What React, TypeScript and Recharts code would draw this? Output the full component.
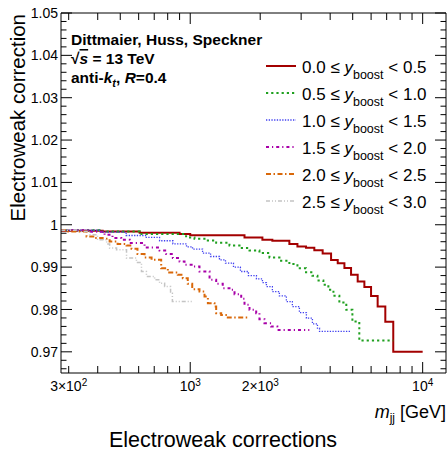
import React from "react";
import { LineChart, Line, XAxis, YAxis, Legend } from "recharts";

const FONT = '"Liberation Sans", Arial, Helvetica, sans-serif';

// y_boost slices shown in the legend
const boostLow = ["0.0", "0.5", "1.0", "1.5", "2.0", "2.5"];
const boostHigh = ["0.5", "1.0", "1.5", "2.0", "2.5", "3.0"];

// m_jj bin edges [GeV] and the correction in each bin (one value fewer than edges)
const mjj0 = [278, 420, 606, 900, 1000, 1712, 2044, 2256, 2670, 2892, 3149, 3419, 3713, 4036, 4311, 4606, 4919, 5253, 5613, 5997, 6402, 6907, 7473, 10000];
const ew0 = [0.9986, 0.9984, 0.9981, 0.9978, 0.9975, 0.997, 0.99645, 0.9962, 0.99544, 0.99487, 0.9946, 0.994, 0.9932, 0.9917, 0.9909, 0.9898, 0.9882, 0.9866, 0.9853, 0.9832, 0.9807, 0.9771, 0.97];

const mjj1 = [278, 407, 606, 960, 1043, 1171, 1293, 1475, 1629, 1799, 1985, 2192, 2420, 2670, 2892, 3149, 3355, 3527, 3739, 3929, 4131, 4381, 4693, 4985, 5338, 7473];
const ew1 = [0.9987, 0.9984, 0.9978, 0.997, 0.99669, 0.99629, 0.99574, 0.99511, 0.99449, 0.99392, 0.99331, 0.99227, 0.99149, 0.99071, 0.98976, 0.98877, 0.98794, 0.98683, 0.98582, 0.98463, 0.98322, 0.98163, 0.97991, 0.97714, 0.97265];

const mjj2 = [278, 407, 530, 647, 738, 842, 964, 1023, 1130, 1223, 1336, 1418, 1535, 1644, 1780, 1927, 2045, 2127, 2256, 2418, 2592, 2750, 2949, 3161, 3355, 3527, 3600, 4920];
const ew2 = [0.9987, 0.99827, 0.99747, 0.997, 0.99622, 0.99551, 0.9948, 0.99426, 0.99331, 0.99251, 0.99173, 0.99095, 0.99, 0.98896, 0.98801, 0.98723, 0.98636, 0.98541, 0.98423, 0.98322, 0.98187, 0.98069, 0.97927, 0.97794, 0.9766, 0.97558, 0.97482];

const mjj3 = [278, 369, 428, 463, 505, 549, 636, 738, 788, 842, 900, 945, 1033, 1096, 1211, 1293, 1380, 1475, 1551, 1657, 1712, 1799, 1922, 1985, 2086, 2229, 2370, 3254];
const ew3 = [0.9987, 0.99834, 0.99764, 0.99686, 0.99645, 0.99567, 0.99463, 0.99392, 0.99307, 0.99213, 0.99132, 0.99054, 0.99014, 0.98896, 0.987, 0.98605, 0.98504, 0.98463, 0.98362, 0.98251, 0.98109, 0.97991, 0.97913, 0.97771, 0.97676, 0.97596, 0.97518];

const mjj4 = [278, 294, 358, 388, 420, 450, 487, 532, 559, 593, 636, 682, 750, 801, 884, 929, 976, 1020, 1096, 1152, 1191, 1272, 1293, 1359, 1451, 1780];
const ew4 = [0.9987, 0.99842, 0.99723, 0.99686, 0.99669, 0.99605, 0.99544, 0.99511, 0.99433, 0.99307, 0.99227, 0.99173, 0.98976, 0.98872, 0.98818, 0.9874, 0.98605, 0.9848, 0.98423, 0.98305, 0.98149, 0.98069, 0.97913, 0.97872, 0.97809];

const mjj5 = [278, 324, 369, 399, 437, 450, 482, 532, 587, 617, 648, 703, 738, 776, 823, 838, 1023];
const ew5 = [0.9987, 0.99842, 0.99764, 0.99645, 0.99544, 0.99449, 0.99409, 0.99213, 0.99109, 0.98896, 0.98778, 0.987, 0.98622, 0.98541, 0.98385, 0.98187];

// axes
const xDomain = [278, 12600];
const yDomain = [0.965, 1.05];
const xTicksAll = [300, 400, 500, 600, 700, 800, 900, 1000, 2000, 3000, 4000, 5000, 6000, 7000, 8000, 9000, 10000];
const xMajor = [1000, 10000];
const xLabelValues = [300, 1000, 2000, 10000];
const xLabelBase = ["3\u00d710", "10", "2\u00d710", "10"];
const xLabelExp = ["2", "3", "3", "4"];
const yLabelValues = [0.97, 0.98, 0.99, 1.0, 1.01, 1.02, 1.03, 1.04, 1.05];
const yLabels = ["0.97", "0.98", "0.99", "1", "1.01", "1.02", "1.03", "1.04", "1.05"];
const yTicksAll = Array.from({ length: 43 }, (_, i) => +(0.966 + i * 0.002).toFixed(3));

const toSteps = (edges: number[], vals: number[]) =>
  edges.map((m, i) => ({ m, v: vals[Math.min(i, vals.length - 1)] }));

const series = [
  { data: toSteps(mjj0, ew0), color: "#a30000", width: 2, dash: undefined },
  { data: toSteps(mjj1, ew1), color: "#1fa01f", width: 2, dash: "2.2 3" },
  { data: toSteps(mjj2, ew2), color: "#4040f0", width: 1.3, dash: "1.3 1.4" },
  { data: toSteps(mjj3, ew3), color: "#a800a8", width: 2, dash: "3 3 1.2 3" },
  { data: toSteps(mjj4, ew4), color: "#d9680a", width: 2, dash: "5 2.5 1.5 2.5" },
  { data: toSteps(mjj5, ew5), color: "#c4c4c4", width: 1.5, dash: "4 2 1 2 1 2" },
];

const isMajorY = (v: number) => yLabelValues.some((t) => Math.abs(t - v) < 1e-6);

function LeftTick(props: any) {
  const { x, y, payload } = props;
  const idx = yLabelValues.findIndex((t) => Math.abs(t - payload.value) < 1e-6);
  const major = idx >= 0;
  return (
    <g>
      <line x1={x} x2={x + (major ? 11 : 5.5)} y1={y} y2={y} stroke="#000" />
      {major && (
        <text x={x - 3} y={y} dy="0.36em" textAnchor="end" fontSize={14} fontFamily={FONT} fill="#000">
          {yLabels[idx]}
        </text>
      )}
    </g>
  );
}

function RightTick(props: any) {
  const { x, y, payload } = props;
  const len = isMajorY(payload.value) ? 11 : 5.5;
  return <line x1={x} x2={x - len} y1={y} y2={y} stroke="#000" />;
}

function BottomTick(props: any) {
  const { x, y, payload } = props;
  const v = payload.value;
  const li = xLabelValues.indexOf(v);
  const len = xMajor.includes(v) ? 11 : 7;
  return (
    <g>
      <line x1={x} x2={x} y1={y} y2={y - len} stroke="#000" />
      {li >= 0 && (
        <text x={x} y={y + 18} textAnchor="middle" fontSize={14} fontFamily={FONT} fill="#000">
          {xLabelBase[li]}
          <tspan dy={-5.5} fontSize={10}>{xLabelExp[li]}</tspan>
        </text>
      )}
    </g>
  );
}

function TopTick(props: any) {
  const { x, y, payload } = props;
  const len = xMajor.includes(payload.value) ? 11 : 7;
  return <line x1={x} x2={x} y1={y} y2={y + len} stroke="#000" />;
}

function LegendBox() {
  return (
    <svg width={185} height={165} style={{ display: "block" }}>
      {series.map((s, i) => {
        const cy = 14 + i * 27;
        return (
          <g key={i}>
            <line x1={4} x2={34} y1={cy} y2={cy} stroke={s.color} strokeWidth={s.width} strokeDasharray={s.dash} />
            <text x={40} y={cy + 6.5} fontSize={17} fontFamily={FONT} fill="#000">
              {boostLow[i]} {"\u2264"} <tspan fontStyle="italic">y</tspan>
              <tspan dy={6} fontSize={12.5}>boost</tspan>
              <tspan dy={-6}>{" < "}{boostHigh[i]}</tspan>
            </text>
          </g>
        );
      })}
    </svg>
  );
}

export default function App() {
  return (
    <div style={{ position: "absolute", left: 0, top: 0, width: 447, height: 452, background: "#fff" }}>
      <LineChart width={447} height={452} margin={{ top: 12, right: 0, bottom: 0, left: 0 }}>
        <XAxis
          xAxisId="x"
          dataKey="m"
          type="number"
          scale="log"
          domain={xDomain}
          allowDataOverflow
          ticks={xTicksAll}
          interval={0}
          height={79}
          tickSize={0}
          tickMargin={0}
          tickLine={false}
          axisLine={{ stroke: "#000" }}
          tick={<BottomTick />}
        />
        <XAxis
          xAxisId="xt"
          dataKey="m"
          orientation="top"
          type="number"
          scale="log"
          domain={xDomain}
          allowDataOverflow
          ticks={xTicksAll}
          interval={0}
          height={1}
          tickSize={0}
          tickMargin={0}
          tickLine={false}
          axisLine={{ stroke: "#000" }}
          tick={<TopTick />}
        />
        <YAxis
          yAxisId="y"
          type="number"
          domain={yDomain}
          allowDataOverflow
          ticks={yTicksAll}
          interval={0}
          width={61}
          tickSize={0}
          tickMargin={0}
          tickLine={false}
          axisLine={{ stroke: "#000" }}
          tick={<LeftTick />}
        />
        <YAxis
          yAxisId="yr"
          orientation="right"
          type="number"
          domain={yDomain}
          allowDataOverflow
          ticks={yTicksAll}
          interval={0}
          width={1}
          tickSize={0}
          tickMargin={0}
          tickLine={false}
          axisLine={{ stroke: "#000" }}
          tick={<RightTick />}
        />
        {series.map((s, i) => (
          <Line
            key={i}
            xAxisId="x"
            yAxisId="y"
            data={s.data}
            dataKey="v"
            name={`${boostLow[i]}-${boostHigh[i]}`}
            type="stepAfter"
            stroke={s.color}
            strokeWidth={s.width}
            strokeDasharray={s.dash}
            dot={false}
            activeDot={false}
            isAnimationActive={false}
          />
        ))}
        <Legend
          layout="vertical"
          align="center"
          verticalAlign="middle"
          content={() => <LegendBox />}
          wrapperStyle={{ left: 262, top: 52, width: 185, height: 165 }}
        />
      </LineChart>
      <svg
        width={447}
        height={452}
        style={{ position: "absolute", left: 0, top: 0, pointerEvents: "none" }}
        fontFamily={FONT}
      >
        <text x={71} y={45} fontSize={15.5} fontWeight="bold">Dittmaier, Huss, Speckner</text>
        <text x={71} y={64} fontSize={15.5} fontWeight="bold">
          {"\u221a"}
          <tspan fontStyle="italic" textDecoration="overline">s</tspan>
          {" = 13 TeV"}
        </text>
        <text x={71} y={83} fontSize={15.5} fontWeight="bold">
          {"anti-"}
          <tspan fontStyle="italic">k</tspan>
          <tspan dy={4} fontSize={11} fontStyle="italic">t</tspan>
          <tspan dy={-4}>{", "}</tspan>
          <tspan fontStyle="italic">R</tspan>
          {"=0.4"}
        </text>
        <text transform="translate(25,14) rotate(-90)" textAnchor="end" fontSize={20.5}>
          Electroweak correction
        </text>
        <text x={446} y={418} textAnchor="end" fontSize={18}>
          <tspan fontStyle="italic">m</tspan>
          <tspan dy={4} fontSize={12}>jj</tspan>
          <tspan dy={-4}>{" [GeV]"}</tspan>
        </text>
        <text x={223} y={447} textAnchor="middle" fontSize={21.5}>Electroweak corrections</text>
      </svg>
    </div>
  );
}
